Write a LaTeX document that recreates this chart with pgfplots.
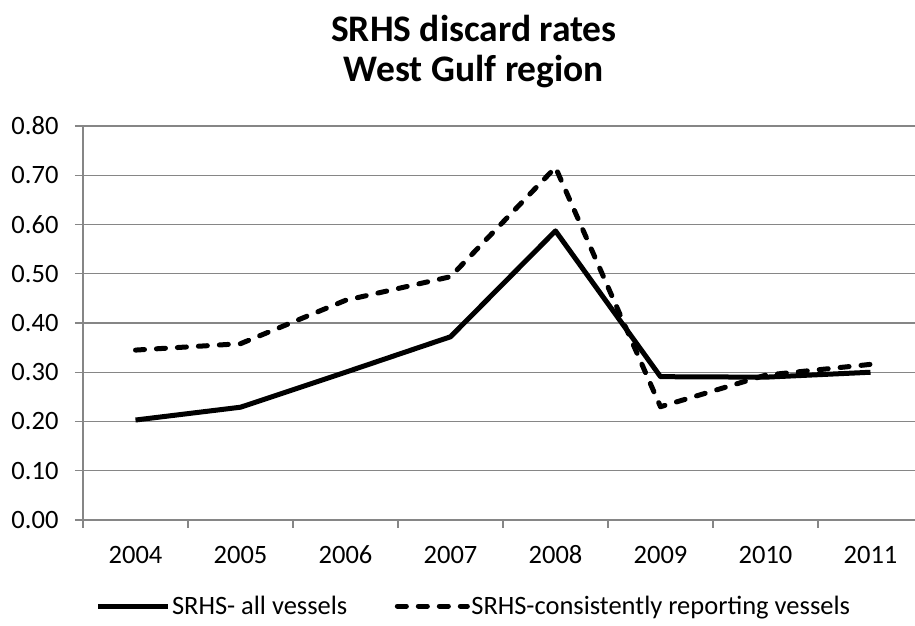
\documentclass[border=0pt]{standalone}
\usepackage{fontspec}
\setmainfont{Carlito}
\usepackage{pgfplots}
\pgfplotsset{compat=1.18}
\definecolor{gridgray}{RGB}{134,134,134}
\begin{document}
\begin{tikzpicture}[x=1pt,y=1pt]
\useasboundingbox (0,0) rectangle (915,626);
\clip (0,0) rectangle (915,626);
\node[font=\fontsize{37.5}{40}\selectfont\bfseries, anchor=base] at (474,584) {SRHS discard rates};
\node[font=\fontsize{37.5}{40}\selectfont\bfseries, anchor=base] at (474,544) {West Gulf region};
\begin{axis}[
  at={(83pt,106pt)}, anchor=south west,
  scale only axis, width=840pt, height=394pt,
  xmin=-0.5, xmax=7.5, ymin=0, ymax=0.8,
  axis lines*=left,
  axis line style={draw=gridgray, line width=1.3pt},
  xtick={0,1,2,3,4,5,6,7},
  xticklabels={2004,2005,2006,2007,2008,2009,2010,2011},
  minor xtick={-0.5,0.5,1.5,2.5,3.5,4.5,5.5,6.5,7.5},
  major x tick style={draw=none},
  minor x tick style={draw=gridgray, line width=1.3pt},
  minor tick length=8pt,
  ytick={0,0.1,0.2,0.3,0.4,0.5,0.6,0.7,0.8},
  y tick style={draw=gridgray, line width=1.3pt},
  major tick length=8pt,
  tick align=outside,
  ymajorgrids,
  major grid style={draw=gridgray, line width=1.3pt},
  yticklabel style={/pgf/number format/fixed, /pgf/number format/fixed zerofill, /pgf/number format/precision=2},
  /pgf/number format/assume math mode=true,
  tick label style={font=\fontsize{26.5}{30}\selectfont},
  xticklabel style={anchor=base, yshift=-35pt},
  yticklabel style={anchor=east, xshift=-13pt},
  legend style={at={(axis description cs:0.4649,-0.2183)}, anchor=center, draw=none, fill=none,
    font=\fontsize{26.5}{30}\selectfont, legend columns=2,
    /tikz/every even column/.append style={column sep=46pt},
    nodes={inner xsep=1.5pt}},
  legend cell align=left,
  legend image code/.code={\draw[#1] (0pt,0pt) -- (70pt,0pt);},
]
\addplot[black, line width=5pt, line join=round] coordinates {
(0,0.203) (1,0.229) (2,0.300) (3,0.372) (4,0.587) (5,0.291) (6,0.290) (7,0.300)};
\addlegendentry{SRHS- all vessels}
\addplot[black, line width=5pt, line cap=round, line join=round, dash pattern=on 9pt off 12pt] coordinates {
(0,0.345) (1,0.358) (2,0.446) (3,0.494) (4,0.716) (5,0.230) (6,0.294) (7,0.316)};
\addlegendentry{SRHS-consistently reporting vessels}
\end{axis}
\end{tikzpicture}
\end{document}
